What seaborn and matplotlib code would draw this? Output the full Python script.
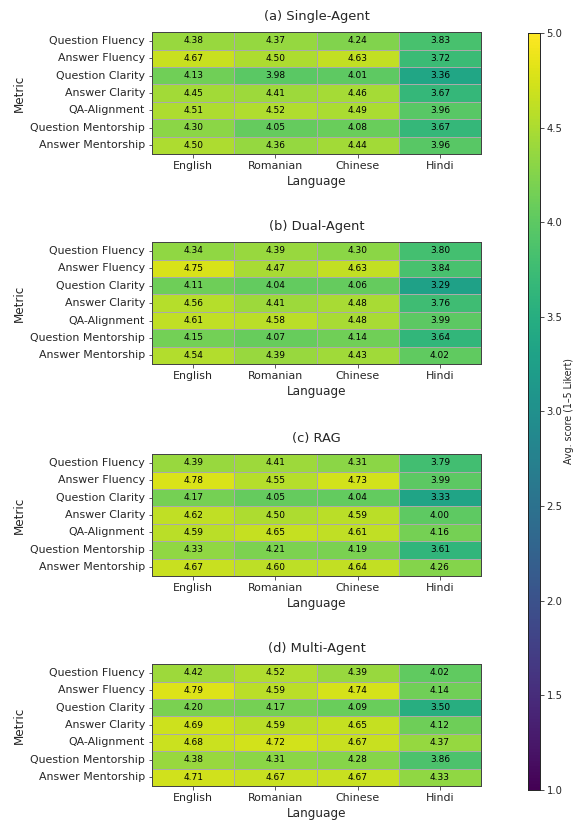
import numpy as np
import pandas as pd
import matplotlib
matplotlib.use("Agg")
import matplotlib.pyplot as plt
import seaborn as sns

metrics = ["Question Fluency", "Answer Fluency", "Question Clarity", "Answer Clarity",
           "QA-Alignment", "Question Mentorship", "Answer Mentorship"]
languages = ["English", "Romanian", "Chinese", "Hindi"]

single_agent = [
    [4.38, 4.37, 4.24, 3.83],
    [4.67, 4.50, 4.63, 3.72],
    [4.13, 3.98, 4.01, 3.36],
    [4.45, 4.41, 4.46, 3.67],
    [4.51, 4.52, 4.49, 3.96],
    [4.30, 4.05, 4.08, 3.67],
    [4.50, 4.36, 4.44, 3.96],
]
dual_agent = [
    [4.34, 4.39, 4.30, 3.80],
    [4.75, 4.47, 4.63, 3.84],
    [4.11, 4.04, 4.06, 3.29],
    [4.56, 4.41, 4.48, 3.76],
    [4.61, 4.58, 4.48, 3.99],
    [4.15, 4.07, 4.14, 3.64],
    [4.54, 4.39, 4.43, 4.02],
]
rag = [
    [4.39, 4.41, 4.31, 3.79],
    [4.78, 4.55, 4.73, 3.99],
    [4.17, 4.05, 4.04, 3.33],
    [4.62, 4.50, 4.59, 4.00],
    [4.59, 4.65, 4.61, 4.16],
    [4.33, 4.21, 4.19, 3.61],
    [4.67, 4.60, 4.64, 4.26],
]
multi_agent = [
    [4.42, 4.52, 4.39, 4.02],
    [4.79, 4.59, 4.74, 4.14],
    [4.20, 4.17, 4.09, 3.50],
    [4.69, 4.59, 4.65, 4.12],
    [4.68, 4.72, 4.67, 4.37],
    [4.38, 4.31, 4.28, 3.86],
    [4.71, 4.67, 4.67, 4.33],
]
titles = ["(a) Single-Agent", "(b) Dual-Agent", "(c) RAG", "(d) Multi-Agent"]
panels = [single_agent, dual_agent, rag, multi_agent]
cbar_ticks = [1.0, 1.5, 2.0, 2.5, 3.0, 3.5, 4.0, 4.5, 5.0]

sns.set_style("white")
plt.rcParams["font.family"] = ["DejaVu Sans"]
plt.rcParams["font.size"] = 11

fig = plt.figure(figsize=(8, 823 / 72), dpi=72)

left, width, height = 0.264, 0.571, 0.148
bottoms = [0.8129, 0.5577, 0.3002, 0.0450]
cax = fig.add_axes([0.9167, 0.040, 0.0208, 0.920])

for i, (title, vals) in enumerate(zip(titles, panels)):
    ax = fig.add_axes([left, bottoms[i], width, height])
    df = pd.DataFrame(vals, index=metrics, columns=languages)
    sns.heatmap(df, ax=ax, cmap="viridis", vmin=1, vmax=5,
                annot=True, fmt=".2f", annot_kws={"size": 9, "color": "black"},
                linewidths=0.8, linecolor="#aaaaaa",
                cbar=(i == 0), cbar_ax=cax if i == 0 else None)
    ax.set_title(title, fontsize=13, pad=12)
    ax.set_xlabel("Language", fontsize=12)
    ax.set_ylabel("Metric", fontsize=12)
    ax.tick_params(axis="both", labelsize=11, length=3.5, width=0.8,
                   color="#333333", left=True, bottom=True)
    ax.set_yticklabels(metrics, rotation=0)
    ax.set_xticklabels(languages, rotation=0)
    for s in ax.spines.values():
        s.set_visible(True)
        s.set_color("#444444")
        s.set_linewidth(1.0)

cax.set_yticks(cbar_ticks)
cax.set_yticklabels([f"{t:.1f}" for t in cbar_ticks])
cax.tick_params(labelsize=10, length=3.5, width=0.8, pad=3)
cax.set_ylabel("Avg. score (1\u20135 Likert)", fontsize=9.5, labelpad=1)
for s in cax.spines.values():
    s.set_visible(True)
    s.set_color("#222222")
    s.set_linewidth(0.8)

fig.savefig("out.png", dpi=72)
